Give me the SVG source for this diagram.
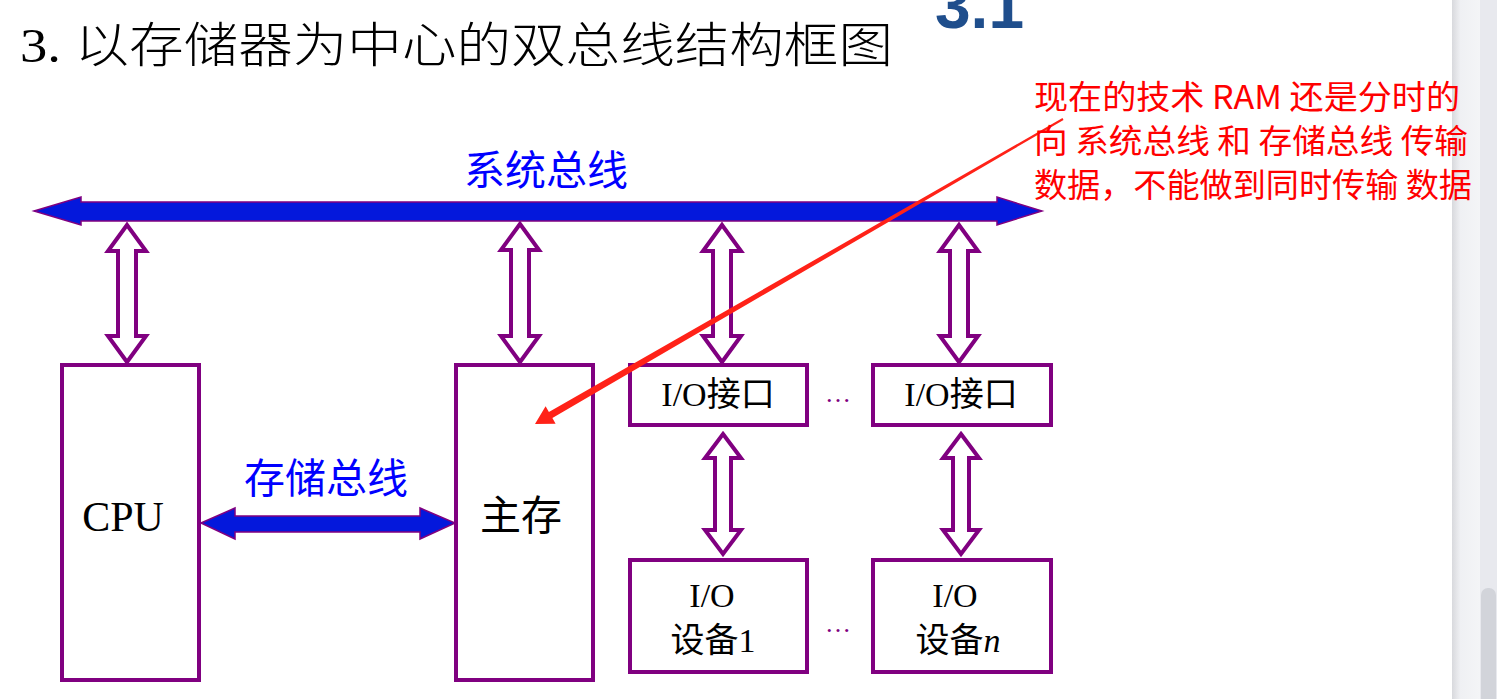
<svg xmlns="http://www.w3.org/2000/svg" width="1497" height="699" viewBox="0 0 1497 699">
<defs>
<linearGradient id="sbEdge" x1="0" y1="0" x2="1" y2="0">
<stop offset="0" stop-color="#d8d9dd"/>
<stop offset="0.3" stop-color="#eff0f3"/>
<stop offset="1" stop-color="#f4f5f7"/>
</linearGradient>
</defs>
<style>
.box{fill:#fff;stroke:#800080;stroke-width:4}
.hollow{fill:#fff;stroke:#800080;stroke-width:4;stroke-linejoin:miter}
.bus{fill:#0418dc;stroke:#800080;stroke-width:1.5;stroke-linejoin:miter}
.lbl{font-family:"Liberation Serif","Noto Sans CJK SC",serif;fill:#000;text-anchor:middle}
.blue{font-family:"Noto Sans CJK SC",sans-serif;fill:#0000ff;font-size:41px;text-anchor:middle}
.note{font-family:"Noto Sans CJK SC",sans-serif;fill:#ff0000;font-size:33px}
.dots{font-family:"Liberation Serif",serif;fill:#800080;font-size:26px}
</style>
<rect width="1497" height="699" fill="#fff"/>
<g id="scrollbar">
<rect x="1452" y="0" width="28" height="699" fill="url(#sbEdge)"/>
<rect x="1480" y="0" width="17" height="699" fill="#e8e9ee"/>
<rect x="1481" y="588" width="15" height="120" rx="7" fill="#d2d4da"/>
</g>
<text id="slide-number" x="935" y="28" font-family="Liberation Sans,Arial,sans-serif" font-weight="bold" font-size="64" fill="#1f4e8c">3.1</text>
<text id="title" x="20" y="62" font-family="Liberation Serif,'Noto Sans CJK SC',serif" font-weight="300" font-size="48" fill="#000" textLength="873" lengthAdjust="spacingAndGlyphs">3. 以存储器为中心的双总线结构框图</text>

<g id="connectors">
<polygon id="system-bus-arrow" class="bus" points="34,211 81,197 81,202 997,202 997,197 1042,211 997,225 997,221 81,221 81,225"/>
<polygon id="storage-bus-arrow" class="bus" points="201,523 235,508 235,516 420,516 420,508 455,523 420,539 420,532 235,532 235,539"/>
<path id="cpu-sysbus" class="hollow" d="M127,225 L146,251 L136,251 L136,336 L146,336 L127,362 L108,336 L118,336 L118,251 L108,251 Z"/>
<path id="mem-sysbus" class="hollow" d="M520,224 L539,250 L529,250 L529,336 L539,336 L520,362 L501,336 L511,336 L511,250 L501,250 Z"/>
<path id="io1-sysbus" class="hollow" d="M722,225 L741,251 L731,251 L731,336 L741,336 L722,362 L703,336 L713,336 L713,251 L703,251 Z"/>
<path id="io2-sysbus" class="hollow" d="M959,225 L978,251 L968,251 L968,336 L978,336 L959,362 L940,336 L950,336 L950,251 L940,251 Z"/>
<path id="io1-dev1" class="hollow" d="M723,434 L741,458 L731,458 L731,530 L741,530 L723,554 L705,530 L715,530 L715,458 L705,458 Z"/>
<path id="io2-devn" class="hollow" d="M961,434 L979,458 L969,458 L969,530 L979,530 L961,554 L943,530 L953,530 L953,458 L943,458 Z"/>
</g>

<text id="system-bus-label" class="blue" x="546" y="185">系统总线</text>
<text id="storage-bus-label" class="blue" x="326" y="493">存储总线</text>

<g id="cpu">
<rect class="box" x="62" y="365" width="137" height="315"/>
<text class="lbl" x="123" y="531" font-size="42">CPU</text>
</g>
<g id="main-memory">
<rect class="box" x="456" y="365" width="137" height="315"/>
<text class="lbl" x="521" y="530" font-size="41">主存</text>
</g>
<g id="io-interface-1">
<rect class="box" x="630" y="365" width="177" height="60"/>
<text class="lbl" x="718" y="406" font-size="34">I/O接口</text>
</g>
<text class="dots" x="825" y="402">…</text>
<g id="io-interface-n">
<rect class="box" x="873" y="365" width="178" height="60"/>
<text class="lbl" x="961" y="406" font-size="34">I/O接口</text>
</g>
<g id="io-device-1">
<rect class="box" x="630" y="560" width="177" height="112"/>
<text class="lbl" x="712" y="607" font-size="34">I/O</text>
<text class="lbl" x="713" y="652" font-size="34">设备1</text>
</g>
<text class="dots" x="825" y="632">…</text>
<g id="io-device-n">
<rect class="box" x="873" y="560" width="178" height="112"/>
<text class="lbl" x="955" y="607" font-size="34">I/O</text>
<text class="lbl" x="958" y="652" font-size="34">设备<tspan font-style="italic">n</tspan></text>
</g>

<g id="annotation">
<polygon fill="#ff2218" points="1062.5,118.1 1063.5,119.9 552.4,418.0 555.6,423.7 535,424 545.6,406.3 548.9,412.0"/>
<text class="note" x="1034" y="109" textLength="426" lengthAdjust="spacingAndGlyphs">现在的技术 RAM 还是分时的</text>
<text class="note" x="1034" y="153" textLength="434" lengthAdjust="spacingAndGlyphs">向 系统总线 和 存储总线 传输</text>
<text class="note" x="1034" y="197" textLength="438" lengthAdjust="spacingAndGlyphs">数据，不能做到同时传输 数据</text>
</g>
</svg>
